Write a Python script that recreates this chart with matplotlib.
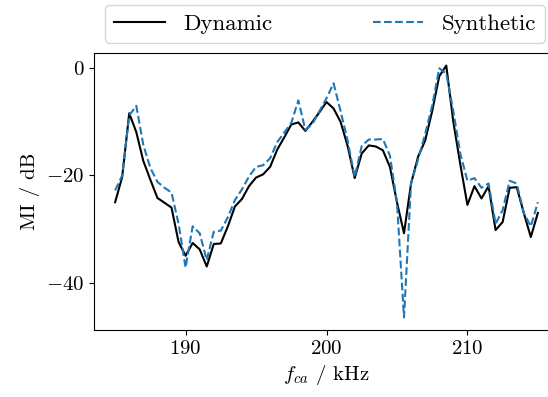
import numpy as np
import matplotlib
matplotlib.use("Agg")
import matplotlib.pyplot as plt

plt.rcParams['font.family'] = 'serif'
plt.rcParams['font.serif'] = ['cmr10']
plt.rcParams['mathtext.fontset'] = 'cm'
plt.rcParams['axes.formatter.use_mathtext'] = True
plt.rcParams['font.size'] = 15

# carrier frequency in kHz, 0.5 kHz steps
freq = np.arange(185.0, 215.01, 0.5)

dynamic = [-25.0, -20.3, -8.4, -11.9, -17.3, -20.8, -24.2, -25.1, -26.0, -32.4,
           -35.0, -32.6, -33.8, -37.0, -32.8, -32.7, -29.5, -25.8, -24.4, -22.0,
           -20.4, -19.8, -18.4, -15.2, -12.9, -10.5, -10.1, -11.7, -10.0, -8.2,
           -6.3, -7.5, -10.0, -14.5, -20.5, -15.9, -14.4, -14.6, -15.3, -18.4,
           -25.0, -30.8, -21.5, -16.5, -13.5, -8.0, -1.5, 0.5, -10.0, -18.0,
           -25.5, -22.0, -24.3, -22.0, -30.2, -28.7, -22.3, -22.2, -27.0, -31.5,
           -27.0]

synthetic = [-22.8, -20.0, -8.8, -7.0, -14.3, -18.6, -21.2, -22.3, -23.2, -29.0,
             -37.2, -29.5, -30.8, -35.8, -30.5, -30.3, -27.8, -24.6, -22.6, -20.2,
             -18.4, -18.1, -16.8, -13.8, -12.0, -10.2, -6.0, -11.5, -10.4, -8.0,
             -5.6, -2.8, -8.0, -13.5, -20.3, -14.5, -13.3, -13.3, -13.2, -16.3,
             -25.0, -46.5, -21.5, -17.0, -12.3, -7.0, 0.0, -1.0, -8.0, -16.0,
             -21.0, -20.5, -22.3, -21.5, -29.0, -26.5, -21.0, -21.5, -27.0, -29.5,
             -25.0]

fig = plt.figure(figsize=(5.48, 3.97), dpi=100)
# axes runs past the right edge of the figure, as in the original crop
ax = fig.add_axes([94 / 548, 67 / 397, 465 / 548, 277 / 397])
ax.set_xlim(183.5, 216.5)
ax.spines['right'].set_visible(False)

ax.plot(freq, dynamic, color='black', linewidth=1.5, label='Dynamic')
ax.plot(freq, synthetic, color='#1f77b4', linestyle='--', linewidth=1.5, label='Synthetic')

ax.set_xticks([190, 200, 210])
ax.set_yticks([0, -20, -40])
ax.set_xlabel(r'$f_{ca}$ / kHz')
ax.set_ylabel('MI / dB')

fig.legend(loc='lower left', ncol=2, mode='expand', fontsize=16.5,
           handlelength=2.2,
           bbox_to_anchor=(105 / 548, 1 - 43 / 397, 440 / 548, 40 / 397),
           borderaxespad=0.0)

fig.savefig('out.png', dpi=100)
